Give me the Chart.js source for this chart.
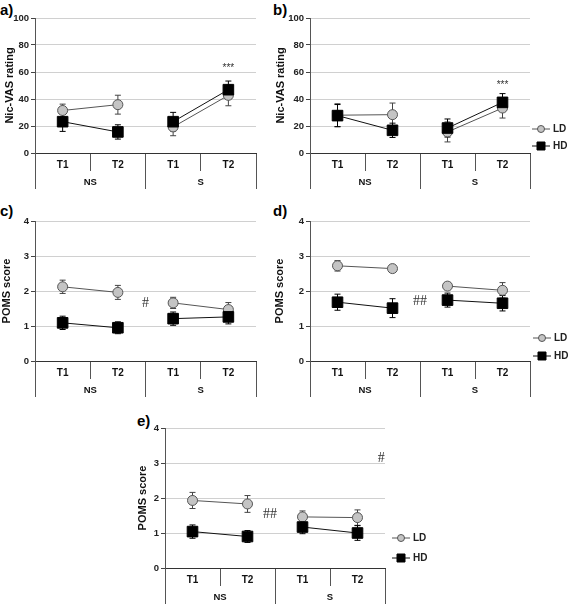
<!DOCTYPE html>
<html>
<head>
<meta charset="utf-8">
<title>Nic-VAS rating and POMS score</title>
<script src="https://cdn.jsdelivr.net/npm/chart.js@4.4.1/dist/chart.umd.min.js"></script>
<style>
  body { margin: 0; width: 573px; height: 607px; background: #fff; position: relative; overflow: hidden; }
  canvas { position: absolute; }
  .tag { position: absolute; font: bold 15px Arial, "Liberation Sans", sans-serif; line-height: 1; color: #000; }
</style>
</head>
<body>
<div class="tag" style="left:0px;top:2px">a)</div>
<div class="tag" style="left:273px;top:2px">b)</div>
<div class="tag" style="left:0px;top:203px">c)</div>
<div class="tag" style="left:273px;top:203px">d)</div>
<div class="tag" style="left:137px;top:413px">e)</div>

<canvas id="chartA" width="282" height="189" style="left:3px;top:0px"></canvas>
<canvas id="chartB" width="299" height="189" style="left:274px;top:0px"></canvas>
<canvas id="chartC" width="285" height="194" style="left:0px;top:203px"></canvas>
<canvas id="chartD" width="300" height="194" style="left:273px;top:203px"></canvas>
<canvas id="chartE" width="294" height="194" style="left:136px;top:410px"></canvas>

<script>
const timeLabels = ["T1", "T2", "T1", "T2"];
const groupLabels = ["NS", "S"];
const seriesNames = ["LD", "HD"];

// a) Nic-VAS rating
const vasA_LD = [31.5, 35.8, 19.3, 42.7];
const vasA_LDerr = [4.7, 7, 6.5, 7.7];
const vasA_HD = [23.2, 15.6, 23.2, 46.9];
const vasA_HDerr = [7.2, 5.3, 6.9, 6.4];

// b) Nic-VAS rating
const vasB_LD = [28, 28.4, 15.6, 33.3];
const vasB_LDerr = [8.5, 8.6, 7.4, 7.4];
const vasB_HD = [27.7, 16.8, 18.5, 37.5];
const vasB_HDerr = [8.2, 5.3, 6.7, 6.5];

// c) POMS score
const pomsC_LD = [2.12, 1.96, 1.66, 1.47];
const pomsC_LDerr = [0.19, 0.2, 0.16, 0.2];
const pomsC_HD = [1.09, 0.95, 1.21, 1.26];
const pomsC_HDerr = [0.19, 0.17, 0.19, 0.2];

// d) POMS score
const pomsD_LD = [2.72, 2.64, 2.14, 2.02];
const pomsD_LDerr = [0.15, 0.08, 0.1, 0.22];
const pomsD_HD = [1.68, 1.51, 1.74, 1.65];
const pomsD_HDerr = [0.23, 0.27, 0.2, 0.22];

// e) POMS score
const pomsE_LD = [1.93, 1.83, 1.46, 1.44];
const pomsE_LDerr = [0.23, 0.24, 0.17, 0.22];
const pomsE_HD = [1.04, 0.9, 1.17, 1.0];
const pomsE_HDerr = [0.19, 0.17, 0.19, 0.21];

// significance marks (category index, value)
const marksA = [{ text: "***", x: 3, y: 62.7 }];
const marksB = [{ text: "***", x: 3, y: 50.4 }];
const marksC = [{ text: "#", x: 1.5, y: 1.66 }];
const marksD = [{ text: "##", x: 1.5, y: 1.7 }];
const marksE = [{ text: "##", x: 1.41, y: 1.52 }, { text: "#", x: 3.43, y: 3.12 }];

const sans = 'Arial, "Liberation Sans", sans-serif';

const errorBars = {
  id: "errorBars",
  beforeDatasetsDraw(chart) {
    const ctx = chart.ctx;
    const yScale = chart.scales.y;
    chart.data.datasets.forEach((ds, i) => {
      chart.getDatasetMeta(i).data.forEach((pt, j) => {
        const hi = yScale.getPixelForValue(ds.data[j] + ds.errors[j]);
        const lo = yScale.getPixelForValue(ds.data[j] - ds.errors[j]);
        ctx.save();
        ctx.strokeStyle = ds.errorColor;
        ctx.lineWidth = 1;
        ctx.beginPath();
        ctx.moveTo(pt.x, hi); ctx.lineTo(pt.x, lo);
        ctx.moveTo(pt.x - 3, hi); ctx.lineTo(pt.x + 3, hi);
        ctx.moveTo(pt.x - 3, lo); ctx.lineTo(pt.x + 3, lo);
        ctx.stroke();
        ctx.restore();
      });
    });
  }
};

function sigMarks(items) {
  return {
    id: "sigMarks",
    afterDatasetsDraw(chart) {
      const ctx = chart.ctx;
      items.forEach(m => {
        ctx.save();
        ctx.font = m.text === "***" ? "10px " + sans : '14px "Liberation Serif", "Times New Roman", serif';
        ctx.fillStyle = "#333";
        ctx.textAlign = "center";
        ctx.textBaseline = "middle";
        ctx.fillText(m.text, chart.scales.x.getPixelForValue(m.x), chart.scales.y.getPixelForValue(m.y));
        ctx.restore();
      });
    }
  };
}

// legend with a short line through the marker, like "-o- LD"
function lineLegend(legend) {
  return {
    id: "lineLegend",
    afterDraw(chart) {
      if (!legend) return;
      const ctx = chart.ctx, area = chart.chartArea;
      seriesNames.forEach((name, i) => {
        const ds = chart.data.datasets.find(d => d.label === name);
        const x0 = area.right + legend.dx;
        const y = area.bottom + legend.ys[i];
        ctx.save();
        ctx.strokeStyle = ds.borderColor;
        ctx.lineWidth = 1;
        ctx.beginPath(); ctx.moveTo(x0, y); ctx.lineTo(x0 + 18, y); ctx.stroke();
        ctx.fillStyle = ds.pointBackgroundColor;
        ctx.strokeStyle = ds.pointBorderColor;
        ctx.beginPath();
        if (ds.pointStyle === "circle") {
          ctx.arc(x0 + 9, y, 3.5, 0, Math.PI * 2);
        } else {
          ctx.rect(x0 + 5, y - 4, 8, 8);
        }
        ctx.fill(); ctx.stroke();
        ctx.fillStyle = "#222";
        ctx.font = "bold 10px " + sans;
        ctx.textBaseline = "middle";
        ctx.fillText(name, x0 + 21, y);
        ctx.restore();
      });
    }
  };
}

function makePanel(id, cfg) {
  const hideGap = c => (c.p0DataIndex === 1 ? "rgba(0,0,0,0)" : undefined);
  return new Chart(document.getElementById(id), {
    type: "line",
    data: {
      labels: timeLabels,
      datasets: [
        {
          label: "LD", data: cfg.ld, errors: cfg.ldErr, order: 1,
          borderColor: "#555", borderWidth: 1, errorColor: "#444",
          pointStyle: "circle", pointRadius: 5, pointHoverRadius: 5,
          pointBackgroundColor: "#c4c4c4", pointBorderColor: "#555", pointBorderWidth: 1,
          segment: { borderColor: hideGap }
        },
        {
          label: "HD", data: cfg.hd, errors: cfg.hdErr, order: 0,
          borderColor: "#111", borderWidth: 1, errorColor: "#000",
          pointStyle: "rect", pointRadius: 7.5, pointHoverRadius: 7.5,
          pointBackgroundColor: "#000", pointBorderColor: "#000", pointBorderWidth: 1,
          segment: { borderColor: hideGap }
        }
      ]
    },
    options: {
      responsive: false,
      animation: false,
      layout: { padding: { top: 18, right: cfg.padR, left: 0, bottom: 0 } },
      elements: { line: { tension: 0 } },
      plugins: { legend: { display: false }, tooltip: { enabled: false } },
      scales: {
        x: {
          type: "category", labels: timeLabels, offset: true,
          grid: { offset: true, drawOnChartArea: false, tickLength: 18, color: "#555" },
          border: { color: "#333" },
          ticks: { color: "#111", font: { family: sans, size: 10, weight: "bold" }, padding: -12, maxRotation: 0, autoSkip: false },
          afterFit: s => { s.height = 18; }
        },
        x2: {
          type: "category", labels: groupLabels, position: "bottom", offset: true, weight: 1,
          grid: { offset: true, drawOnChartArea: false, tickLength: 18, color: "#555" },
          border: { display: false },
          ticks: { color: "#111", font: { family: sans, size: 9.5, weight: "bold" }, padding: -12, maxRotation: 0, autoSkip: false },
          afterFit: s => { s.height = 18; }
        },
        y: {
          min: 0, max: cfg.yMax,
          ticks: { stepSize: cfg.yStep, color: "#222", font: { family: sans, size: 9.5, weight: "bold" }, padding: 2 },
          grid: { color: "#d0d0d0", tickColor: "#444", tickLength: 4 },
          border: { color: "#555" },
          title: { display: true, text: cfg.yTitle, color: "#111", font: { family: sans, size: 11, weight: "bold" }, padding: 0 },
          afterFit: s => { s.width = cfg.yW; }
        }
      }
    },
    plugins: [errorBars, sigMarks(cfg.marks), lineLegend(cfg.legend)]
  });
}

makePanel("chartA", {
  ld: vasA_LD, ldErr: vasA_LDerr, hd: vasA_HD, hdErr: vasA_HDerr,
  yMax: 100, yStep: 20, yTitle: "Nic-VAS rating", yW: 32, padR: 29, marks: marksA
});
makePanel("chartB", {
  ld: vasB_LD, ldErr: vasB_LDerr, hd: vasB_HD, hdErr: vasB_HDerr,
  yMax: 100, yStep: 20, yTitle: "Nic-VAS rating", yW: 36, padR: 43, marks: marksB,
  legend: { dx: 2, ys: [-24, -7] }
});
makePanel("chartC", {
  ld: pomsC_LD, ldErr: pomsC_LDerr, hd: pomsC_HD, hdErr: pomsC_HDerr,
  yMax: 4, yStep: 1, yTitle: "POMS score", yW: 35, padR: 29, marks: marksC
});
makePanel("chartD", {
  ld: pomsD_LD, ldErr: pomsD_LDerr, hd: pomsD_HD, hdErr: pomsD_HDerr,
  yMax: 4, yStep: 1, yTitle: "POMS score", yW: 37, padR: 43, marks: marksD,
  legend: { dx: 3, ys: [-23, -5] }
});
makePanel("chartE", {
  ld: pomsE_LD, ldErr: pomsE_LDerr, hd: pomsE_HD, hdErr: pomsE_HDerr,
  yMax: 4, yStep: 1, yTitle: "POMS score", yW: 29, padR: 45, marks: marksE,
  legend: { dx: 7, ys: [-30, -10] }
});
</script>
</body>
</html>
